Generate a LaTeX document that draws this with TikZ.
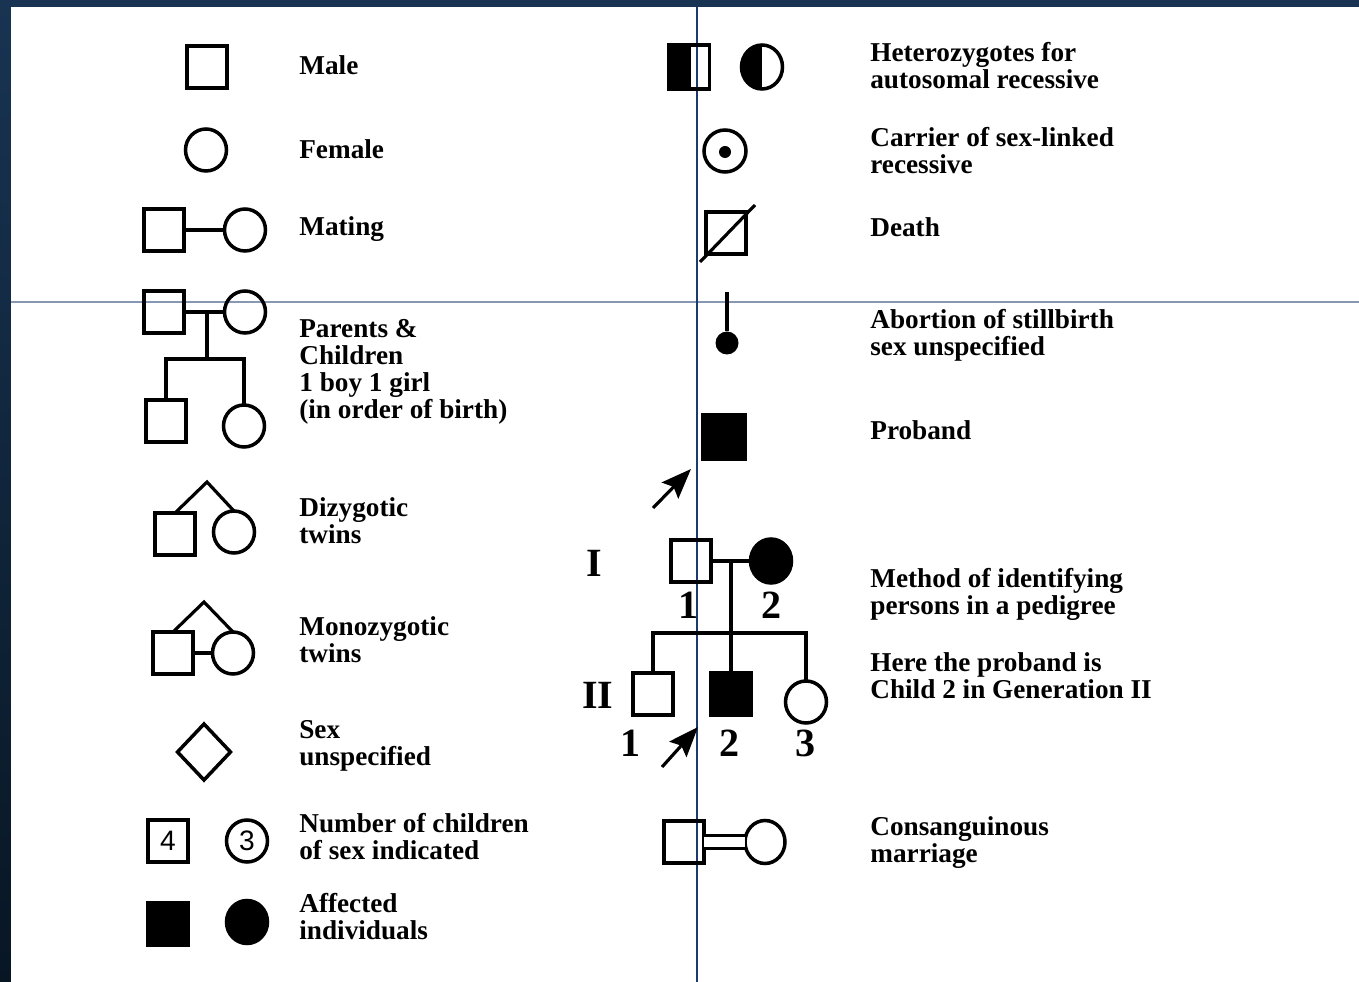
\documentclass[tikz,border=0pt]{standalone}
\usepackage{fontspec}
\setmainfont{Liberation Serif}
\newfontfamily\numfont{Liberation Sans}
\usetikzlibrary{shapes.geometric,arrows.meta}
\newcommand{\legendfont}{\fontsize{15.5}{15.4}\selectfont\bfseries}
\newcommand{\genfont}{\fontsize{22.8}{22.8}\selectfont\bfseries}
\newcommand{\countfont}{\numfont\fontsize{16}{16}\selectfont}
\definecolor{navytop}{RGB}{24,52,82}
\definecolor{navybot}{RGB}{8,22,36}
\definecolor{guidev}{RGB}{28,58,110}
\definecolor{guideh}{RGB}{135,152,178}
\tikzset{
  sym/.style={draw, line width=2pt, inner sep=0pt, outer sep=0pt},
  male/.style={sym, rectangle, minimum width=0.8cm, minimum height=0.84cm},
  female/.style={sym, ellipse, minimum width=0.82cm, minimum height=0.84cm},
  dot/.style={circle, fill=black, inner sep=0pt},
  legendtxt/.style={anchor=west, align=left, inner sep=0pt, font=\legendfont},
  gen/.style={inner sep=0pt, font=\genfont},
  link/.style={line width=1.8pt},
  probarrow/.style={line width=1.8pt, -{Stealth[length=0.6cm, width=0.46cm, inset=0.1cm]}},
  leftfill/.style={path picture={\fill (path picture bounding box.south west) rectangle ([xshift=#1]path picture bounding box.north);}},
}
\begin{document}
\begin{tikzpicture}[x=0.02cm, y=-0.02cm]
\useasboundingbox (0,0) rectangle (1359,982);
\shade[top color=navytop, bottom color=navybot] (0,0) rectangle (1359,982);
\fill[white] (11,7) rectangle (1359,982);
\draw[guideh, line width=0.6pt] (11,302) -- (1359,302);
\draw[guidev, line width=0.6pt] (697,7) -- (697,982);

% left column
\node[male] (male) at (207,67) {};
\node[legendtxt] (tMale) at (299,65) {Male};
\node[female] (female) at (206,150) {};
\node[legendtxt] (tFemale) at (299,149) {Female};
\node[male] (matM) at (164,230) {};
\node[female] (matF) at (245,230) {};
\draw[link] (matM) -- (matF);
\node[legendtxt] (tMating) at (299,229) {Mating};

\node[male] (parM) at (164,312) {};
\node[female] (parF) at (245,312) {};
\node[male] (son) at (166,421) {};
\node[female] (dau) at (244,426) {};
\coordinate (parMid) at (207,312);
\coordinate (parSib) at (207,359);
\draw[link] (parM) -- (parF);
\draw[link] (parMid) -- (parSib);
\draw[link] (son.north) |- (parSib) -| (dau.north);
\node[legendtxt] (tParents) at (299,372) {Parents \&\\Children\\1 boy 1 girl\\(in order of birth)};

\node[male] (dizM) at (175,534) {};
\node[female] (dizF) at (234,532) {};
\coordinate (dizTop) at (207,482);
\draw[link] (dizM.north) -- (dizTop) -- (dizF.north);
\node[legendtxt] (tDiz) at (299,521) {Dizygotic\\twins};

\node[male] (monM) at (173,653) {};
\node[female] (monF) at (233,653) {};
\coordinate (monTop) at (204,602);
\draw[link] (monM.north) -- (monTop) -- (monF.north);
\draw[link] (monM) -- (monF);
\node[legendtxt] (tMon) at (299,640) {Monozygotic\\twins};

\node[sym, diamond, minimum width=1.06cm, minimum height=1.12cm] (sexU) at (204,752) {};
\node[legendtxt] (tSex) at (299,746) {Sex\\unspecified};

\node[male, font=\countfont] (num4) at (168,841) {4};
\node[female, font=\countfont] (num3) at (247,841) {3};
\node[legendtxt] (tNum) at (299,837) {Number of children\\of sex indicated};

\node[male, fill=black, minimum height=0.86cm] (affM) at (168,924) {};
\node[female, fill=black, minimum height=0.86cm] (affF) at (247,922) {};
\node[legendtxt] (tAff) at (299,917) {Affected\\individuals};

% right column
\node[male, minimum width=0.82cm, minimum height=0.88cm, leftfill=0.04cm] (hetM) at (689,67) {};
\node[female, minimum height=0.88cm, leftfill=0cm] (hetF) at (762,67) {};
\node[legendtxt] (tHet) at (870,66) {Heterozygotes for\\autosomal recessive};

\node[female, minimum width=0.84cm] (carF) at (725,151) {};
\node[dot, minimum size=0.24cm] (carDot) at (725,152) {};
\node[legendtxt] (tCar) at (870,151) {Carrier of sex-linked\\recessive};

\node[male] (dthM) at (726,233) {};
\coordinate (dthA) at (700,262);
\coordinate (dthB) at (755,205);
\draw[link] (dthA) -- (dthB);
\node[legendtxt] (tDeath) at (870,227) {Death};

\coordinate (abTop) at (727,292);
\node[dot, minimum size=0.46cm] (abDot) at (727,343) {};
\draw[link] (abTop) -- (abDot);
\node[legendtxt] (tAbort) at (870,335) {Abortion of stillbirth\\sex unspecified};

\node[male, fill=black, minimum width=0.84cm, minimum height=0.88cm] (prob) at (724,437) {};
\coordinate (probTail) at (653,508);
\coordinate (probTip) at (691,469);
\draw[probarrow] (probTail) -- (probTip);
\node[legendtxt] (tProb) at (870,430) {Proband};

% pedigree
\node[gen] (genI) at (594,563) {I};
\node[gen] (genII) at (598,695) {II};
\node[male] (pI1) at (691,561) {};
\node[female, fill=black, minimum height=0.88cm] (pI2) at (771,561) {};
\coordinate (pMid) at (731,561);
\coordinate (pSib) at (731,633);
\node[male] (pII1) at (653,694) {};
\node[male, fill=black] (pII2) at (731,694) {};
\node[female] (pII3) at (806,702) {};
\draw[link] (pI1) -- (pI2);
\draw[link] (pMid) -- (pII2.north);
\draw[link] (pII1.north) |- (pSib) -| (pII3.north);
\node[gen] (nI1) at (689,605) {1};
\node[gen] (nI2) at (772,605) {2};
\node[gen] (nII1) at (631,743) {1};
\node[gen] (nII2) at (730,743) {2};
\node[gen] (nII3) at (806,743) {3};
\coordinate (pArrTail) at (662,767);
\coordinate (pArrTip) at (698,727);
\draw[probarrow] (pArrTail) -- (pArrTip);
\node[legendtxt] (tMethod) at (870,594) {Method of identifying\\persons in a pedigree};
\node[legendtxt] (tHere) at (870,676) {Here the proband is\\Child 2 in Generation II};

\node[male] (conM) at (684,842) {};
\node[female, minimum width=0.8cm, minimum height=0.86cm] (conF) at (765,842) {};
\draw[link, double, double distance=0.2cm] (conM) -- (conF);
\node[legendtxt] (tCons) at (870,843) {Consanguinous\\marriage};
\end{tikzpicture}
\end{document}
